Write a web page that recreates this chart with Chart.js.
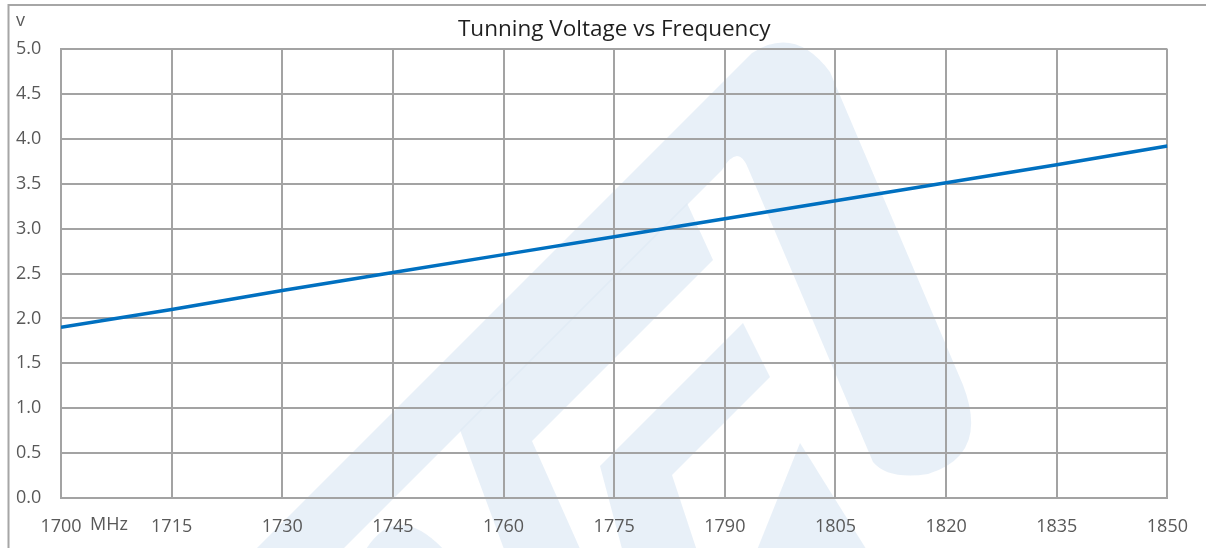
<!DOCTYPE html>
<html>
<head>
<meta charset="utf-8">
<title>Tunning Voltage vs Frequency</title>
<script src="https://cdn.jsdelivr.net/npm/chart.js@4.4.1/dist/chart.umd.min.js"></script>
<style>
  html, body { margin: 0; padding: 0; background: #fff; }
  #wrap { width: 1206px; height: 548px; position: relative; }
</style>
</head>
<body>
<div id="wrap"><canvas id="voltChart"></canvas></div>
<script>
// frequency (MHz) and tuning voltage (V)
const freqs = [1700, 1715, 1730, 1745, 1760, 1775, 1790, 1805, 1820, 1835, 1850];
const volts = [1.90, 2.10, 2.31, 2.51, 2.71, 2.91, 3.11, 3.31, 3.51, 3.71, 3.92];
const xTicks = [1700, 1715, 1730, 1745, 1760, 1775, 1790, 1805, 1820, 1835, 1850];
const yTicks = [0, 0.5, 1, 1.5, 2, 2.5, 3, 3.5, 4, 4.5, 5];

const gridColor = "#a3a3a3";
const textColor = "#595959";
const fontFam = "'Open Sans', sans-serif";

// faint logo in the background + frame + small unit labels
const decor = {
  id: "decor",
  beforeDraw(chart) {
    const c = chart.ctx;
    c.save();
    c.fillStyle = "rgba(222,233,245,0.7)";
    // big A outline with hole
    c.beginPath();
    c.moveTo(245, 560);
    c.lineTo(752, 53);
    c.quadraticCurveTo(795, 25, 830, 72);
    c.lineTo(963, 385);
    c.quadraticCurveTo(990, 455, 928, 474);
    c.quadraticCurveTo(888, 480, 873, 462);
    c.lineTo(748, 168);
    c.quadraticCurveTo(738, 143, 722, 170);
    c.lineTo(332, 560);
    c.closePath();
    c.fill();
    // inner chevron 1
    c.beginPath();
    c.moveTo(460, 430);
    c.lineTo(687, 203);
    c.lineTo(713, 260);
    c.lineTo(532, 441);
    c.lineTo(585, 560);
    c.lineTo(508, 560);
    c.closePath();
    c.fill();
    // inner chevron 2
    c.beginPath();
    c.moveTo(600, 466);
    c.lineTo(743, 323);
    c.lineTo(770, 377);
    c.lineTo(672, 475);
    c.lineTo(700, 560);
    c.lineTo(625, 560);
    c.closePath();
    c.fill();
    // bottom pieces
    c.beginPath();
    c.moveTo(800, 443);
    c.lineTo(873, 560);
    c.lineTo(753, 560);
    c.closePath();
    c.fill();
    c.beginPath();
    c.moveTo(360, 560);
    c.quadraticCurveTo(395, 490, 453, 560);
    c.closePath();
    c.fill();
    c.restore();
  },
  afterDraw(chart) {
    const c = chart.ctx;
    c.save();
    c.strokeStyle = "#a6a6a6";
    c.lineWidth = 2;
    c.beginPath();
    c.moveTo(1206, 5);
    c.lineTo(8.5, 5);
    c.lineTo(8.5, 548);
    c.stroke();
    c.fillStyle = textColor;
    c.font = "18px " + fontFam;
    c.textBaseline = "middle";
    c.textAlign = "left";
    c.fillText("v", 16, 21);
    const xs = chart.scales.x;
    c.fillText("MHz", xs.getPixelForValue(1700) + 29, 525);
    c.restore();
  }
};

new Chart(document.getElementById("voltChart"), {
  type: "line",
  data: {
    datasets: [{
      label: "Tuning voltage",
      data: freqs.map((f, i) => ({ x: f, y: volts[i] })),
      borderColor: "#0070c0",
      borderWidth: 3.5,
      pointRadius: 0,
      tension: 0,
      fill: false
    }]
  },
  options: {
    responsive: true,
    maintainAspectRatio: false,
    animation: false,
    layout: { padding: { left: 16, right: 37, top: 0, bottom: 0 } },
    plugins: {
      legend: { display: false },
      tooltip: { enabled: false },
      title: {
        display: true,
        text: "Tunning Voltage vs Frequency",
        color: "#1f1f1f",
        fullSize: false,
        font: { family: fontFam, size: 22.5, weight: "normal", lineHeight: 1.2 },
        padding: { top: 16, bottom: 6 }
      }
    },
    scales: {
      x: {
        type: "linear",
        min: 1700,
        max: 1850,
        afterBuildTicks: s => { s.ticks = xTicks.map(v => ({ value: v })); },
        afterFit: s => { s.height = 50; },
        ticks: {
          color: textColor,
          font: { family: fontFam, size: 18 },
          padding: 18,
          maxRotation: 0,
          callback: v => String(v)
        },
        grid: { color: gridColor, lineWidth: 2, drawTicks: false },
        border: { color: gridColor, width: 2 }
      },
      y: {
        min: 0,
        max: 5,
        afterBuildTicks: s => { s.ticks = yTicks.map(v => ({ value: v })); },
        afterFit: s => { s.width = 45; },
        ticks: {
          color: textColor,
          font: { family: fontFam, size: 18 },
          crossAlign: "far",
          callback: v => v.toFixed(1)
        },
        grid: { color: gridColor, lineWidth: 2, drawTicks: false },
        border: { color: gridColor, width: 2 }
      }
    }
  },
  plugins: [decor]
});
</script>
</body>
</html>
